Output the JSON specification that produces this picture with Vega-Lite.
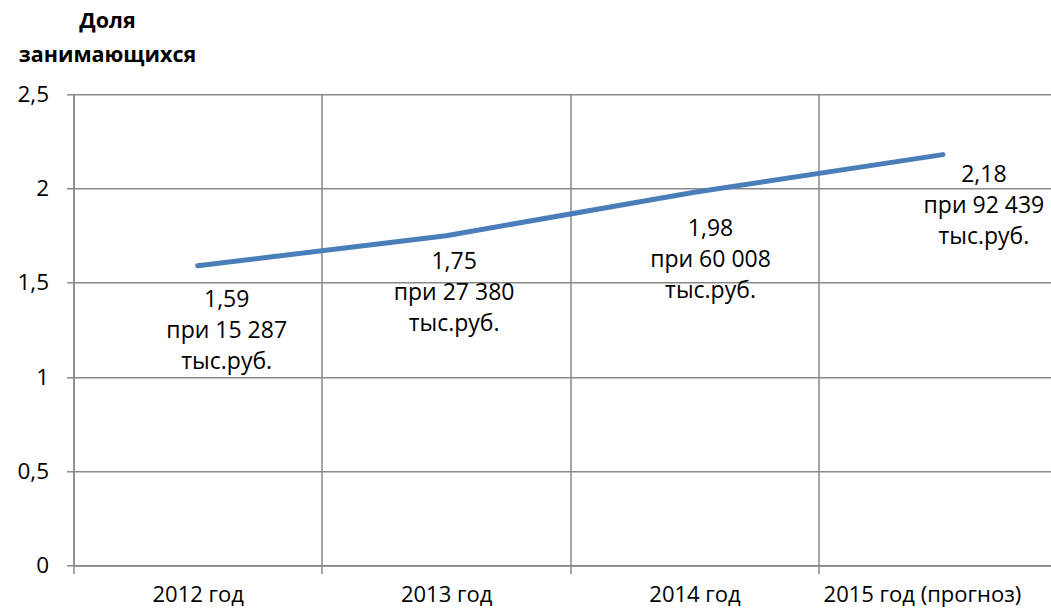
{
  "$schema": "https://vega.github.io/schema/vega-lite/v6.json",
  "width": 977.5,
  "height": 471.2,
  "autosize": {"type": "none"},
  "padding": {"left": 73.5, "top": 94.3, "right": 0, "bottom": 46.5},
  "background": "white",
  "config": {"view": {"stroke": null}, "font": "Open Sans"},
  "title": {
    "text": ["Доля", "занимающихся"],
    "anchor": "start",
    "frame": "group",
    "align": "center",
    "dx": 34,
    "dy": 33,
    "fontSize": 21.5,
    "fontWeight": "bold",
    "lineHeight": 34,
    "baseline": "bottom",
    "offset": 28,
    "color": "#000000"
  },
  "data": {
    "values": [
      {"year": "2012 год", "value": 1.59, "label": "1,59\nпри 15 287\nтыс.руб."},
      {"year": "2013 год", "value": 1.75, "label": "1,75\nпри 27 380\nтыс.руб."},
      {"year": "2014 год", "value": 1.98, "label": "1,98\nпри 60 008\nтыс.руб."},
      {"year": "2015 год (прогноз)", "value": 2.18, "label": "2,18\nпри 92 439\nтыс.руб."}
    ]
  },
  "encoding": {
    "x": {
      "field": "year",
      "type": "nominal",
      "sort": null,
      "scale": {"type": "band", "paddingInner": 0, "paddingOuter": 0, "range": [0, 993.6]},
      "axis": {
        "title": null,
        "labelAngle": 0,
        "tickBand": "extent",
        "grid": true,
        "gridColor": "#898989",
        "gridWidth": 1.5,
        "domainColor": "#898989",
        "domainWidth": 1.5,
        "tickColor": "#898989",
        "tickWidth": 1.5,
        "tickSize": 8,
        "labelFontSize": 22,
        "labelColor": "#000000",
        "labelPadding": 11,
        "labelLimit": 0,
        "labelOverlap": false,
        "labelBound": false,
        "labelOffset": {"condition": {"test": "datum.value == '2015 год (прогноз)'", "value": -21}, "value": 0}
      }
    },
    "y": {
      "field": "value",
      "type": "quantitative",
      "scale": {"domain": [0, 2.5], "nice": false},
      "axis": {
        "title": null,
        "values": [0, 0.5, 1, 1.5, 2, 2.5],
        "labelExpr": "replace(format(datum.value, '~g'), '.', ',')",
        "grid": true,
        "gridColor": "#898989",
        "gridWidth": 1.5,
        "domainColor": "#898989",
        "domainWidth": 1.5,
        "tickColor": "#898989",
        "tickWidth": 1.5,
        "tickSize": 7,
        "labelFontSize": 22.5,
        "labelColor": "#000000",
        "labelPadding": 18
      }
    }
  },
  "layer": [
    {"mark": {"type": "line", "color": "#4A7EBB", "strokeWidth": 5, "strokeCap": "round"}},
    {
      "transform": [{"filter": "datum.year == '2012 год'"}],
      "mark": {"type": "text", "lineBreak": "\n", "fontSize": 23, "lineHeight": 31, "color": "#000000", "align": "center", "baseline": "middle", "dx": 29, "dy": 34},
      "encoding": {"text": {"field": "label"}}
    },
    {
      "transform": [{"filter": "datum.year == '2013 год'"}],
      "mark": {"type": "text", "lineBreak": "\n", "fontSize": 23, "lineHeight": 31, "color": "#000000", "align": "center", "baseline": "middle", "dx": 8, "dy": 26},
      "encoding": {"text": {"field": "label"}}
    },
    {
      "transform": [{"filter": "datum.year == '2014 год'"}],
      "mark": {"type": "text", "lineBreak": "\n", "fontSize": 23, "lineHeight": 31, "color": "#000000", "align": "center", "baseline": "middle", "dx": 16, "dy": 37},
      "encoding": {"text": {"field": "label"}}
    },
    {
      "transform": [{"filter": "datum.year == '2015 год (прогноз)'"}],
      "mark": {"type": "text", "lineBreak": "\n", "fontSize": 23, "lineHeight": 31, "color": "#000000", "align": "center", "baseline": "middle", "dx": 41, "dy": 20},
      "encoding": {"text": {"field": "label"}}
    }
  ]
}
